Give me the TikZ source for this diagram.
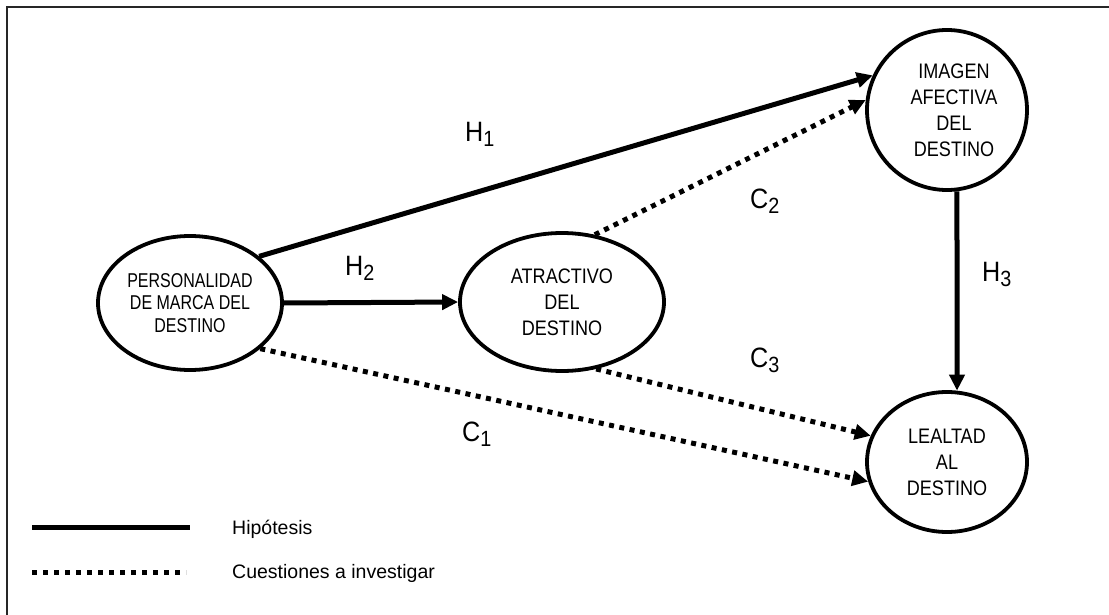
\documentclass[tikz,border=0pt]{standalone}
\usepackage{fontspec}
\setmainfont{Liberation Sans}
\newfontfamily\narrowsans[FakeStretch=0.86]{Liberation Sans}
\newfontfamily\narrowersans[FakeStretch=0.8]{Liberation Sans}
\newfontfamily\labelsans[FakeStretch=0.9]{Liberation Sans}
\usetikzlibrary{arrows.meta,shapes.geometric}

\tikzset{
  construct/.style={ellipse, draw, line width=3.8pt, inner sep=0pt, align=center,
    font=\narrowsans\fontsize{21}{26}\selectfont},
  hyp/.style={line width=5pt, -{Triangle[length=16pt,width=15pt]}},
  quest/.style={line width=5pt, dash pattern=on 5pt off 5.5pt,
    -{Triangle[length=16pt,width=15pt]}},
  pathlabel/.style={anchor=base west, inner sep=0pt, font=\labelsans\fontsize{28}{30}\selectfont},
  legendtext/.style={anchor=base west, inner sep=0pt, font=\fontsize{19.5}{22}\selectfont},
}
\newcommand{\idx}[1]{\raisebox{-5pt}{\fontsize{22}{22}\selectfont #1}}

\begin{document}
\begin{tikzpicture}[x=1pt,y=-1pt]
\useasboundingbox (0,0) rectangle (1109,615);

% frame (top and left edges)
\coordinate (fbl) at (7,615);
\coordinate (ftl) at (7,7);
\coordinate (ftr) at (1109,7);
\draw[line width=2pt, black!85] (fbl) -- (ftl) -- (ftr);

% constructs
\node[construct, minimum width=184pt, minimum height=134pt,
      font=\narrowersans\fontsize{20}{22.5}\selectfont]
  (pers) at (190,303) {PERSONALIDAD\\DE MARCA DEL\\DESTINO};
\node[construct, minimum width=204pt, minimum height=138pt] (atr) at (562,302)
  {ATRACTIVO\\DEL\\DESTINO};
\node[construct, minimum width=160pt, minimum height=160pt] (img) at (947,110)
  {\hspace*{14pt}IMAGEN\\\hspace*{14pt}AFECTIVA\\\hspace*{14pt}DEL\\\hspace*{14pt}DESTINO};
\node[construct, minimum width=160pt, minimum height=140pt] (leal) at (947,462)
  {LEALTAD\\AL\\DESTINO};

% relations
\draw[hyp] (pers.34) -- (img.155);
\draw[hyp] (pers.0) -- (atr.180);
\draw[hyp] (img.-83) -- (leal.82);
\draw[quest] (atr.64) -- (img.173);
\draw[quest] (atr.-63) -- (leal.161);
\draw[quest] (pers.-33) -- (leal.-166);

% relation labels
\node[pathlabel] (lh1) at (465,142) {H\idx{1}};
\node[pathlabel] (lh2) at (345,275) {H\idx{2}};
\node[pathlabel] (lh3) at (982,281) {H\idx{3}};
\node[pathlabel] (lc1) at (462,441) {C\idx{1}};
\node[pathlabel] (lc2) at (750,208) {C\idx{2}};
\node[pathlabel] (lc3) at (750,367) {C\idx{3}};

% legend
\coordinate (ls1) at (32,527);
\coordinate (ls2) at (190,527);
\coordinate (lq1) at (32,572);
\coordinate (lq2) at (186,572);
\draw[line width=5pt] (ls1) -- (ls2);
\draw[line width=5pt, dash pattern=on 5pt off 6pt] (lq1) -- (lq2);
\node[legendtext] (lgh) at (232,534) {Hipótesis};
\node[legendtext] (lgq) at (232,578) {Cuestiones a investigar};
\end{tikzpicture}
\end{document}
